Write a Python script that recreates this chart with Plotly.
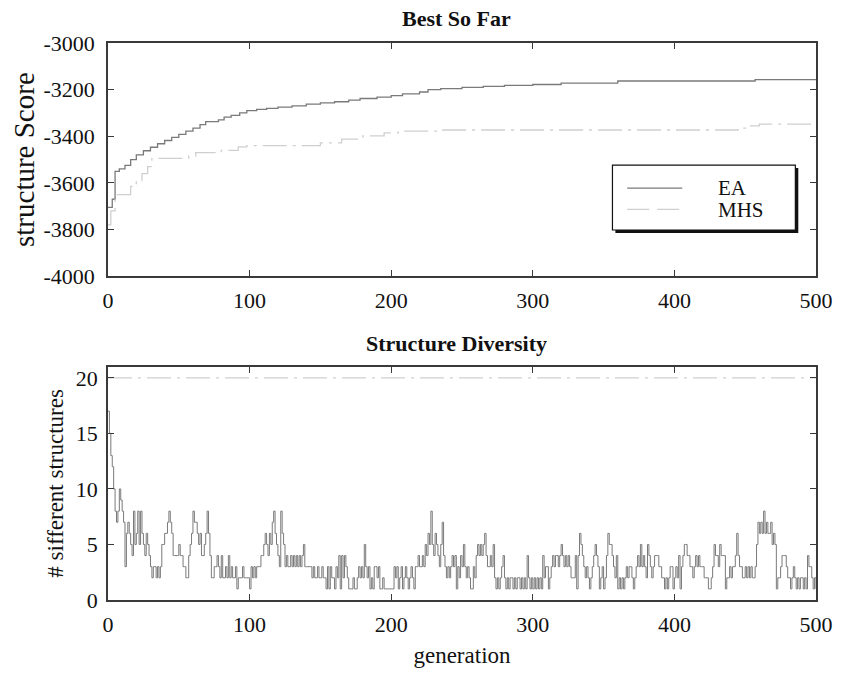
import plotly.graph_objects as go

# ---------------- data ----------------
# Best-so-far structure score (step curves)
ea_best_gen = [0, 3, 5, 8, 12, 16, 20, 25, 30, 35, 40, 45, 50, 55, 60, 65, 69, 78, 82, 87,
               93, 98, 105, 112, 120, 130, 140, 150, 160, 170, 178, 190, 200, 208, 220, 226,
               235, 250, 265, 280, 300, 320, 360, 457, 500]
ea_best_score = [-3705, -3670, -3550, -3540, -3525, -3500, -3480, -3462, -3447, -3432, -3418,
                 -3405, -3392, -3378, -3365, -3350, -3337, -3330, -3318, -3310, -3300, -3290,
                 -3285, -3280, -3275, -3270, -3262, -3257, -3252, -3245, -3238, -3232, -3226,
                 -3218, -3210, -3200, -3196, -3190, -3186, -3182, -3178, -3172, -3163, -3157,
                 -3157]
mhs_best_gen = [0, 2, 5, 16, 20, 24, 28, 31, 57, 62, 80, 92, 98, 150, 165, 180, 195, 205, 235,
                445, 452, 460, 500]
mhs_best_score = [-3780, -3720, -3650, -3615, -3590, -3560, -3530, -3495, -3485, -3470, -3460,
                  -3445, -3440, -3428, -3412, -3398, -3385, -3378, -3373, -3365, -3355, -3348,
                  -3348]

# Number of different structures per generation (EA), generations 0..500
ea_div = [
    17, 15, 13, 12, 10, 8, 7, 8, 10, 9,
    8, 7, 3, 6, 7, 6, 5, 4, 8, 5,
    6, 8, 5, 8, 6, 5, 4, 6, 5, 4,
    3, 2, 3, 3, 2, 3, 2, 3, 5, 5,
    6, 6, 7, 8, 7, 6, 4, 4, 4, 4,
    5, 4, 4, 3, 3, 2, 2, 4, 5, 6,
    8, 7, 7, 6, 5, 6, 4, 4, 5, 6,
    8, 6, 4, 2, 2, 3, 3, 4, 3, 2,
    4, 2, 2, 3, 2, 4, 2, 3, 2, 2,
    3, 1, 2, 2, 2, 3, 2, 2, 2, 2,
    1, 3, 2, 3, 2, 3, 3, 3, 4, 4,
    5, 6, 5, 4, 6, 5, 7, 8, 6, 5,
    4, 3, 8, 6, 5, 3, 4, 3, 3, 4,
    3, 4, 3, 4, 3, 4, 3, 4, 5, 3,
    3, 3, 3, 3, 2, 3, 2, 2, 3, 2,
    2, 3, 2, 2, 1, 3, 1, 3, 2, 2,
    1, 3, 2, 4, 1, 4, 2, 4, 3, 2,
    1, 1, 1, 2, 1, 1, 2, 3, 2, 3,
    2, 5, 3, 2, 3, 1, 2, 1, 3, 3,
    2, 3, 1, 1, 2, 1, 1, 1, 1, 1,
    1, 1, 3, 2, 3, 1, 2, 3, 1, 2,
    3, 2, 1, 2, 3, 2, 1, 3, 3, 4,
    3, 3, 4, 3, 5, 4, 6, 5, 8, 5,
    4, 6, 5, 4, 3, 5, 7, 4, 3, 2,
    3, 2, 3, 4, 3, 4, 1, 3, 2, 4,
    3, 5, 3, 2, 3, 2, 1, 1, 3, 2,
    4, 5, 4, 5, 4, 5, 6, 4, 3, 3,
    4, 3, 5, 2, 1, 2, 1, 2, 3, 4,
    2, 1, 2, 1, 2, 2, 1, 2, 1, 2,
    2, 1, 2, 1, 2, 1, 4, 2, 1, 2,
    1, 2, 1, 2, 1, 2, 1, 4, 2, 3,
    3, 1, 2, 3, 4, 3, 4, 4, 3, 4,
    5, 4, 3, 4, 3, 4, 3, 2, 2, 2,
    4, 1, 4, 6, 5, 4, 3, 2, 3, 2,
    1, 2, 3, 4, 5, 4, 3, 1, 2, 3,
    1, 2, 4, 6, 5, 5, 4, 3, 2, 4,
    1, 2, 1, 2, 1, 2, 3, 2, 3, 3,
    2, 1, 2, 3, 4, 3, 5, 3, 4, 3,
    2, 5, 4, 3, 2, 3, 4, 4, 4, 3,
    3, 2, 2, 1, 2, 1, 2, 3, 3, 1,
    2, 3, 2, 4, 1, 3, 4, 5, 5, 4,
    4, 3, 3, 2, 3, 4, 3, 4, 3, 3,
    3, 2, 2, 2, 1, 1, 2, 3, 5, 4,
    4, 3, 5, 4, 4, 4, 1, 2, 2, 3,
    2, 3, 3, 4, 6, 4, 3, 3, 2, 2,
    3, 2, 3, 2, 3, 2, 2, 3, 5, 7,
    6, 7, 6, 8, 6, 7, 6, 6, 7, 5,
    6, 5, 1, 2, 2, 3, 4, 4, 4, 3,
    2, 2, 1, 2, 3, 2, 1, 2, 1, 2,
    2, 1, 2, 1, 4, 3, 3, 2, 1, 2,
    1,
]
generations = list(range(len(ea_div)))
mhs_div = [20] * len(ea_div)

series_names = ["EA", "MHS"]
x_ticks = [0, 100, 200, 300, 400, 500]
top_y_ticks = [-4000, -3800, -3600, -3400, -3200, -3000]
top_y_ticktext = ["-4000", "-3800", "-3600", "-3400", "-3200", "-3000"]
bot_y_ticks = [0, 5, 10, 15, 20]

# ---------------- style ----------------
SERIF = "Liberation Serif, Times New Roman, serif"
EA_COLOR = "#7a7a7a"
MHS_COLOR = "#cfcfcf"
AX_COLOR = "#3a3a3a"
TXT = "#111"
MHS_DASH = "24px,6px,3px,6px"

fig = go.Figure()
fig.add_trace(go.Scatter(x=ea_best_gen, y=ea_best_score, mode="lines", line_shape="hv",
                         line=dict(color=EA_COLOR, width=1.3), name=series_names[0],
                         xaxis="x", yaxis="y"))
fig.add_trace(go.Scatter(x=mhs_best_gen, y=mhs_best_score, mode="lines", line_shape="hv",
                         line=dict(color=MHS_COLOR, width=1.3, dash=MHS_DASH),
                         name=series_names[1], xaxis="x", yaxis="y"))
fig.add_trace(go.Scatter(x=generations, y=ea_div, mode="lines", line_shape="hv",
                         line=dict(color=EA_COLOR, width=1), name=series_names[0],
                         xaxis="x2", yaxis="y2"))
fig.add_trace(go.Scatter(x=generations, y=mhs_div, mode="lines",
                         line=dict(color=MHS_COLOR, width=1.3, dash=MHS_DASH),
                         name=series_names[1], xaxis="x2", yaxis="y2"))

axis_common = dict(showline=True, linecolor=AX_COLOR, linewidth=1.5, mirror="ticks",
                   ticks="inside", ticklen=6, tickcolor=AX_COLOR, tickwidth=1.3,
                   showgrid=False, zeroline=False, ticklabeloverflow="allow",
                   tickfont=dict(family=SERIF, size=22, color=TXT))

# plot area: x 108..828 px, top panel y 43..280 px, bottom panel y 372..609 px
W, H = 845, 676
L, R, T, B = 108, 17, 43, 67
PW, PH = W - L - R, H - T - B


def px2x(px):
    return (px - L) / PW


def py2y(py):
    return 1 - (py - T) / PH


top_dom = [py2y(280), 1]
bot_dom = [0, py2y(372)]

# framed legend box with drop shadow inside the top panel
sh = 3
shapes = [
    dict(type="rect", xref="paper", yref="paper", x0=px2x(621 + sh), x1=px2x(807 + sh),
         y0=py2y(167 + sh), y1=py2y(233 + sh), fillcolor="#111", line=dict(width=0),
         layer="above"),
    dict(type="rect", xref="paper", yref="paper", x0=px2x(621), x1=px2x(807),
         y0=py2y(167), y1=py2y(233),
         fillcolor="white", line=dict(color="#111", width=1.2), layer="above"),
    dict(type="line", xref="paper", yref="paper", x0=px2x(636), x1=px2x(692),
         y0=py2y(190.5), y1=py2y(190.5), line=dict(color=EA_COLOR, width=1.3), layer="above"),
    dict(type="line", xref="paper", yref="paper", x0=px2x(636), x1=px2x(692),
         y0=py2y(212), y1=py2y(212), line=dict(color=MHS_COLOR, width=1.3, dash="22px,8px"),
         layer="above"),
]
annotations = [
    dict(text=series_names[0], x=px2x(726), y=py2y(190.5), xref="paper", yref="paper",
         xanchor="left", yanchor="middle", showarrow=False,
         font=dict(family=SERIF, size=21, color=TXT)),
    dict(text=series_names[1], x=px2x(726), y=py2y(212.5), xref="paper", yref="paper",
         xanchor="left", yanchor="middle", showarrow=False,
         font=dict(family=SERIF, size=21, color=TXT)),
    dict(text="<b>Best So Far</b>", x=px2x(462), y=1, xref="paper", yref="paper",
         xanchor="center", yanchor="bottom", yshift=10, showarrow=False,
         font=dict(family=SERIF, size=22, color=TXT)),
    dict(text="<b>Structure Diversity</b>", x=px2x(462), y=bot_dom[1], xref="paper",
         yref="paper", xanchor="center", yanchor="bottom", yshift=9, showarrow=False,
         font=dict(family=SERIF, size=22, color=TXT)),
]

fig.update_layout(
    width=W, height=H, autosize=False,
    margin=dict(l=L, r=R, t=T, b=B),
    paper_bgcolor="white", plot_bgcolor="white",
    showlegend=False,
    xaxis=dict(domain=[0, 1], range=[0, 500], tickvals=x_ticks, anchor="y",
               ticklabelstandoff=4, **axis_common),
    yaxis=dict(domain=top_dom, range=[-4000, -3000], tickvals=top_y_ticks,
               ticktext=top_y_ticktext, anchor="x", ticklabelstandoff=7,
               title=dict(text="structure Score", font=dict(family=SERIF, size=29, color=TXT),
                          standoff=0),
               **axis_common),
    xaxis2=dict(domain=[0, 1], range=[0, 500], tickvals=x_ticks, anchor="y2",
                ticklabelstandoff=4,
                title=dict(text="generation", font=dict(family=SERIF, size=23, color=TXT),
                           standoff=11),
                **axis_common),
    yaxis2=dict(domain=bot_dom, range=[0, 21], tickvals=bot_y_ticks, anchor="x2",
                ticklabelstandoff=4,
                title=dict(text="# sifferent structures",
                           font=dict(family=SERIF, size=23, color=TXT), standoff=6),
                **axis_common),
    shapes=shapes,
    annotations=annotations,
)

fig.write_html(
    "out.html",
    config={"responsive": False, "displayModeBar": False},
    default_width="845px", default_height="676px",
    post_script="document.body.style.margin='0';document.body.style.overflow='hidden';",
)
